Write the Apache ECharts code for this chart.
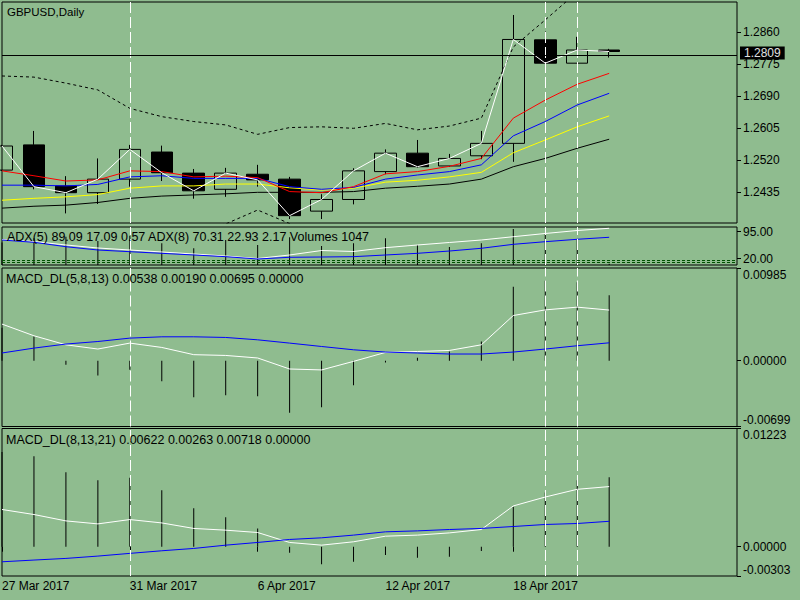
<!DOCTYPE html>
<html>
<head>
<meta charset="utf-8">
<title>GBPUSD,Daily</title>
<script src="https://cdn.jsdelivr.net/npm/echarts@6/dist/echarts.min.js"></script>
<style>
  html, body { margin: 0; padding: 0; background: #8fbc8f; }
  #chart { width: 800px; height: 600px; }
</style>
</head>
<body>
<div id="chart"></div>
<script>
// daily bars, the last four slots are empty space on the right
var dates = ['27 Mar 2017', '28 Mar 2017', '29 Mar 2017', '30 Mar 2017', '31 Mar 2017',
  '3 Apr 2017', '4 Apr 2017', '5 Apr 2017', '6 Apr 2017', '7 Apr 2017',
  '10 Apr 2017', '11 Apr 2017', '12 Apr 2017', '13 Apr 2017', '14 Apr 2017',
  '17 Apr 2017', '18 Apr 2017', '19 Apr 2017', '20 Apr 2017', '21 Apr 2017',
  '24 Apr 2017', '25 Apr 2017', '26 Apr 2017', '27 Apr 2017'];

// [open, close, low, high]
var candles = [
  [1.2494, 1.2558, 1.2492, 1.2561],
  [1.2561, 1.2450, 1.2443, 1.2598],
  [1.2452, 1.2434, 1.2379, 1.2478],
  [1.2434, 1.2470, 1.2404, 1.2525],
  [1.2470, 1.2549, 1.2450, 1.2561],
  [1.2542, 1.2487, 1.2465, 1.2559],
  [1.2486, 1.2439, 1.2418, 1.2497],
  [1.2443, 1.2486, 1.2423, 1.2500],
  [1.2483, 1.2468, 1.2450, 1.2508],
  [1.2470, 1.2373, 1.2364, 1.2476],
  [1.2385, 1.2416, 1.2364, 1.2430],
  [1.2416, 1.2492, 1.2403, 1.2499],
  [1.2490, 1.2539, 1.2483, 1.2549],
  [1.2539, 1.2503, 1.2500, 1.2574],
  [1.2505, 1.2525, 1.2503, 1.2537],
  [1.2532, 1.2565, 1.2523, 1.2598],
  [1.2565, 1.2841, 1.2516, 1.2906],
  [1.2840, 1.2778, 1.2769, 1.2862],
  [1.2778, 1.2813, 1.2778, 1.2848],
  [1.2813, 1.2809, 1.2793, 1.2816]
];
var bidPrice = 1.2809;

var maRed    = [1.2492, 1.2479, 1.2465, 1.2468, 1.2492, 1.2490, 1.2476, 1.2478, 1.2474, 1.2437, 1.2434, 1.2450, 1.2484, 1.2490, 1.2504, 1.2525, 1.2632, 1.2680, 1.2722, 1.2751];
var maBlue   = [1.2454, 1.2454, 1.2452, 1.2456, 1.2476, 1.2479, 1.2472, 1.2472, 1.2472, 1.2450, 1.2443, 1.2448, 1.2470, 1.2481, 1.2490, 1.2508, 1.2585, 1.2623, 1.2667, 1.2698];
var maYellow = [1.2414, 1.2419, 1.2423, 1.2429, 1.2446, 1.2452, 1.2452, 1.2457, 1.2457, 1.2447, 1.2441, 1.2446, 1.2462, 1.2467, 1.2476, 1.2488, 1.2540, 1.2574, 1.2609, 1.2638];
var maBlack  = [1.2393, 1.2398, 1.2401, 1.2408, 1.2419, 1.2425, 1.2428, 1.2431, 1.2435, 1.2435, 1.2435, 1.2437, 1.2446, 1.2451, 1.2457, 1.2470, 1.2503, 1.2525, 1.2552, 1.2576];
var bandUp   = [1.2744, 1.2741, 1.2725, 1.2707, 1.2658, 1.2636, 1.2623, 1.2614, 1.2589, 1.2607, 1.2609, 1.2605, 1.2618, 1.2601, 1.2611, 1.2632, 1.2821, 1.2893, 1.2967, 1.2999];
var bandDn   = [1.2189, 1.2202, 1.2223, 1.2250, 1.2295, 1.2319, 1.2335, 1.2351, 1.2388, 1.2352, 1.2319, 1.2308, 1.2295, 1.2308, 1.2292, 1.2282, 1.2149, 1.2096, 1.2029, 1.2003];
var priceTicks = [1.2435, 1.2520, 1.2605, 1.2690, 1.2775, 1.2860];

var adx5 = [73.1, 67.5, 57.8, 49.4, 43.8, 38.3, 32.7, 27.1, 20.1, 29.9, 42.4, 39.7, 50.3, 57.8, 64.8, 71.7, 80.9, 89.9, 98.2, 104.4];
var adx8 = [71.7, 65.3, 53.0, 43.8, 39.1, 34.6, 29.9, 25.2, 18.7, 23.5, 24.3, 25.2, 29.9, 34.6, 41.0, 48.6, 59.7, 67.0, 73.7, 79.3];
var volumes = [18000, 21360, 22640, 19200, 23440, 17360, 13360, 20000, 16000, 22160, 15200, 17360, 21360, 16000, 14400, 17360, 28800, 24800, 20560, 1047];
var adxLevels = [14, 9.2];
var adxTicks = [10, 20, 95];

var macd1Hist = [0.0035, 0.00257, -0.00042, -0.00156, -0.00095, -0.00219, -0.00389, -0.00367, -0.00378, -0.00554, -0.00495, -0.00262, -0.00018, 0.00032, 0.00098, 0.00204, 0.00787, 0.00850, 0.00833, 0.00695];
var macd1Main = [0.00389, 0.00265, 0.00169, 0.00124, 0.00187, 0.00141, 0.00064, 0.00056, 0.00029, -0.00088, -0.00098, -0.00007, 0.00088, 0.00098, 0.00109, 0.00169, 0.00480, 0.00540, 0.00569, 0.00538];
var macd1Sig  = [0.00082, 0.00134, 0.00177, 0.00204, 0.00240, 0.00254, 0.00254, 0.00247, 0.00222, 0.00187, 0.00151, 0.00116, 0.00092, 0.00082, 0.00071, 0.00071, 0.00092, 0.00124, 0.00159, 0.00190];
var macd1Ticks = [-0.00699, 0, 0.00985];

var macd2Hist = [0.0098, 0.00935, 0.00770, 0.00688, 0.00714, 0.00585, 0.00399, 0.00306, 0.00189, -0.00063, -0.00182, -0.00155, -0.00087, -0.00113, -0.00103, -0.00045, 0.00411, 0.00560, 0.00687, 0.00718];
var macd2Main = [0.00385, 0.00333, 0.00267, 0.00236, 0.00281, 0.00246, 0.00189, 0.00171, 0.00147, 0.00044, 0.00016, 0.00051, 0.00109, 0.00120, 0.00143, 0.00178, 0.00422, 0.00514, 0.00594, 0.00622];
var macd2Sig  = [-0.00156, -0.00138, -0.00121, -0.00097, -0.00069, -0.00042, -0.00018, 0.00016, 0.00044, 0.00075, 0.00092, 0.00120, 0.00154, 0.00164, 0.00178, 0.00189, 0.00209, 0.00230, 0.00240, 0.00263];
var macd2Ticks = [-0.00303, 0, 0.01223];

var separators = [4, 17, 18];

var FONT = 'Liberation Sans';
var BG = '#8fbc8f';
var closes = candles.map(function (c) { return c[1]; });

function vLines() {
  return {
    silent: true, symbol: 'none', animation: false,
    label: { show: false },
    lineStyle: { color: '#ffffff', type: [11, 4], width: 1 },
    data: separators.map(function (i) { return { xAxis: dates[i] }; })
  };
}

function gridBox(top, height) {
  return {
    left: 2, right: 63, top: top, height: height,
    show: true, borderColor: '#000', borderWidth: 1,
    backgroundColor: 'transparent', outerBoundsMode: 'none'
  };
}

function labelStep(i) { return i % 4 === 0 && i < 20; }

function xAx(gi, withLabels) {
  return {
    type: 'category', gridIndex: gi, data: dates, boundaryGap: false,
    axisLine: { show: false },
    axisTick: withLabels ? { show: true, interval: labelStep, length: 5, lineStyle: { color: '#000' } } : { show: false },
    axisLabel: withLabels ? {
      show: true, interval: labelStep, align: 'left', margin: 4, hideOverlap: false,
      color: '#000', fontFamily: FONT, fontSize: 12
    } : { show: false },
    splitLine: { show: false }
  };
}

function yAx(gi, min, max, ticks, digits, edge) {
  var lo = min.toFixed(digits), hi = max.toFixed(digits);
  var txt = { color: '#000', fontFamily: FONT, fontSize: 12 };
  return {
    type: 'value', gridIndex: gi, position: 'right', min: min, max: max,
    axisLine: { show: false },
    axisTick: { show: true, length: 4, customValues: ticks, lineStyle: { color: '#000' } },
    axisLabel: {
      show: true, customValues: ticks, margin: 6, hideOverlap: false,
      color: '#000', fontFamily: FONT, fontSize: 12,
      formatter: function (v) {
        var s = v.toFixed(digits);
        if (edge && s === hi) return '{hi|' + s + '}';
        if (edge && s === lo) return '{lo|' + s + '}';
        return s;
      },
      rich: {
        hi: Object.assign({ padding: [13, 0, 0, 0] }, txt),
        lo: Object.assign({ padding: [0, 0, 13, 0] }, txt)
      }
    },
    splitLine: { show: false }
  };
}

function line(name, data, color, xi, yi, extra) {
  var s = {
    name: name, type: 'line', data: data, xAxisIndex: xi, yAxisIndex: yi,
    symbol: 'none', showSymbol: false, animation: false, silent: true,
    lineStyle: { color: color, width: 1 }
  };
  return Object.assign(s, extra || {});
}

var chart = echarts.init(document.getElementById('chart'), null, { renderer: 'svg' });

var option = {
  backgroundColor: BG,
  animation: false,
  grid: [gridBox(2, 221), gridBox(227, 38), gridBox(268, 158.5), gridBox(428.5, 147.5)],
  xAxis: [xAx(0, false), xAx(1, false), xAx(2, false), xAx(3, true)],
  yAxis: [
    yAx(0, 1.23535, 1.29405, priceTicks, 4, false),
    yAx(1, 2, 108, adxTicks, 2, false),
    { type: 'value', gridIndex: 1, show: false, min: 0, max: 30400, splitLine: { show: false } },
    yAx(2, -0.00699, 0.00985, macd1Ticks, 5, true),
    yAx(3, -0.00303, 0.01223, macd2Ticks, 5, true)
  ],
  graphic: [
    { type: 'text', x: 7, y: 12, z: 100, silent: true,
      style: { text: 'GBPUSD,Daily', fill: '#000', font: '11.5px "Liberation Sans"', verticalAlign: 'middle' } },
    { type: 'text', x: 7, y: 237, z: 100, silent: true,
      style: { text: 'ADX(5) 89.09 17.09 0.57 ADX(8) 70.31 22.93 2.17 Volumes 1047', fill: '#000', font: '12.5px "Liberation Sans"', verticalAlign: 'middle' } },
    { type: 'text', x: 6, y: 278.5, z: 100, silent: true,
      style: { text: 'MACD_DL(5,8,13) 0.00538 0.00190 0.00695 0.00000', fill: '#000', font: '12.5px "Liberation Sans"', verticalAlign: 'middle' } },
    { type: 'text', x: 6, y: 439.5, z: 100, silent: true,
      style: { text: 'MACD_DL(8,13,21) 0.00622 0.00263 0.00718 0.00000', fill: '#000', font: '12.5px "Liberation Sans"', verticalAlign: 'middle' } }
  ],
  series: [
    {
      name: 'GBPUSD', type: 'candlestick', data: candles, xAxisIndex: 0, yAxisIndex: 0,
      barWidth: 22, clip: true, silent: true, animation: false,
      itemStyle: { color: 'transparent', color0: '#000', borderColor: '#000', borderColor0: '#000', borderWidth: 1 },
      markLine: vLines()
    },
    line('Band upper', bandUp, '#000', 0, 0, { lineStyle: { color: '#000', width: 1, type: [3, 3] } }),
    line('Band lower', bandDn, '#000', 0, 0, { lineStyle: { color: '#000', width: 1, type: [3, 3] } }),
    line('MA black', maBlack, '#000', 0, 0),
    line('MA yellow', maYellow, '#ffff00', 0, 0),
    line('MA blue', maBlue, '#0000ff', 0, 0),
    line('MA red', maRed, '#ff0000', 0, 0),
    line('Close', closes, '#ffffff', 0, 0, {
      markLine: {
        silent: true, symbol: 'none', animation: false,
        lineStyle: { color: '#000', type: 'solid', width: 1 },
        label: {
          show: true, position: 'end', distance: 3, offset: [0, -2], formatter: bidPrice.toFixed(4),
          backgroundColor: '#000', color: '#e0e0e0', padding: [0, 4, 0, 4], lineHeight: 13,
          fontFamily: FONT, fontSize: 12
        },
        data: [{ yAxis: bidPrice }]
      }
    }),

    {
      name: 'Volumes', type: 'bar', data: volumes, xAxisIndex: 1, yAxisIndex: 2,
      barWidth: 1, silent: true, animation: false, itemStyle: { color: '#000' },
      markLine: vLines()
    },
    line('ADX(5)', adx5, '#ffffff', 1, 1),
    line('ADX(8)', adx8, '#0000ff', 1, 1, {
      markLine: {
        silent: true, symbol: 'none', animation: false, label: { show: false },
        lineStyle: { color: '#005000', type: [3, 2], width: 1 },
        data: adxLevels.map(function (v) { return { yAxis: v }; })
      }
    }),

    {
      name: 'MACD_DL(5,8,13) hist', type: 'bar', data: macd1Hist, xAxisIndex: 2, yAxisIndex: 3,
      barWidth: 1, silent: true, animation: false, itemStyle: { color: '#000' },
      markLine: vLines()
    },
    line('MACD_DL(5,8,13)', macd1Main, '#ffffff', 2, 3),
    line('MACD_DL(5,8,13) signal', macd1Sig, '#0000ff', 2, 3),

    {
      name: 'MACD_DL(8,13,21) hist', type: 'bar', data: macd2Hist, xAxisIndex: 3, yAxisIndex: 4,
      barWidth: 1, silent: true, animation: false, itemStyle: { color: '#000' },
      markLine: vLines()
    },
    line('MACD_DL(8,13,21)', macd2Main, '#ffffff', 3, 4),
    line('MACD_DL(8,13,21) signal', macd2Sig, '#0000ff', 3, 4)
  ]
};

chart.setOption(option);
</script>
</body>
</html>
